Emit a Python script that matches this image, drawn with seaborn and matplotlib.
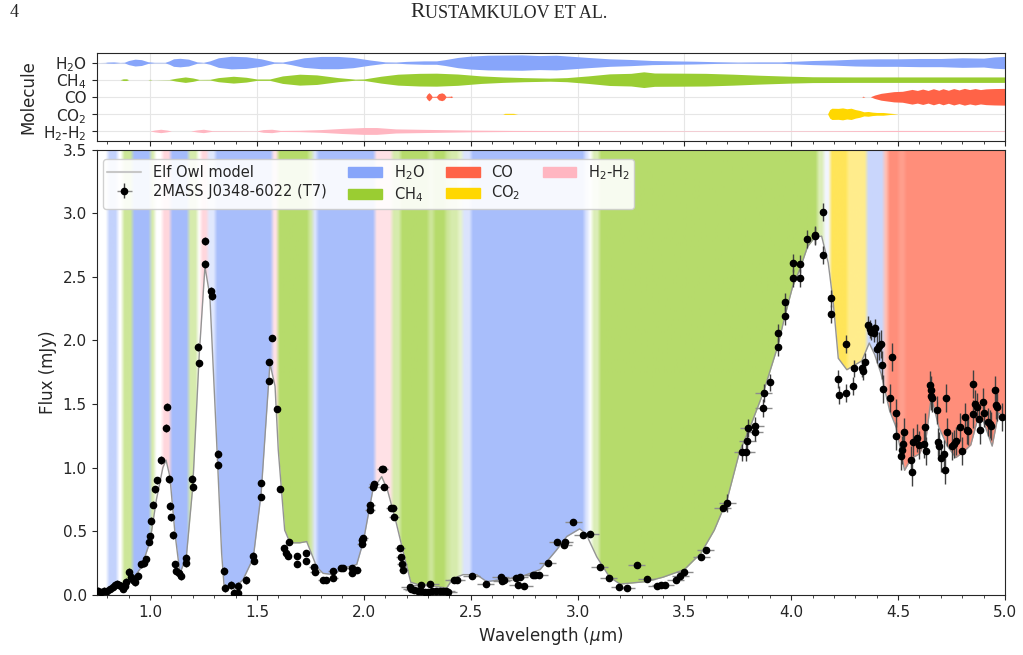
import numpy as np
import matplotlib
matplotlib.use('Agg')
import matplotlib.pyplot as plt
from matplotlib.patches import Patch
from matplotlib.lines import Line2D
from matplotlib.colors import to_rgb
from matplotlib.ticker import MultipleLocator
import seaborn as sns

# ---- observed spectrum (wavelength in um, flux in mJy) ----
spec_wave = np.array([
    0.755, 0.770, 0.785, 0.800, 0.815, 0.825, 0.835, 0.845, 0.855, 0.865,
    0.875, 0.882, 0.890, 0.900, 0.910, 0.920, 0.930, 0.945, 0.960, 0.970,
    0.980, 0.995, 1.000, 1.005, 1.015, 1.025, 1.032, 1.050, 1.075, 1.080,
    1.088, 1.092, 1.100, 1.106, 1.117, 1.120, 1.135, 1.145, 1.168, 1.170,
    1.198, 1.200, 1.226, 1.228, 1.255, 1.259, 1.287, 1.290, 1.316, 1.318,
    1.345, 1.350, 1.380, 1.393, 1.410, 1.412, 1.449, 1.483, 1.485, 1.519,
    1.520, 1.555, 1.557, 1.569, 1.595, 1.608, 1.628, 1.636, 1.645, 1.651,
    1.688, 1.690, 1.728, 1.730, 1.765, 1.772, 1.810, 1.825, 1.855, 1.856,
    1.895, 1.905, 1.944, 1.946, 1.967, 1.990, 1.993, 1.998, 2.030, 2.031,
    2.043, 2.048, 2.085, 2.090, 2.094, 2.128, 2.135, 2.141, 2.169, 2.172,
    2.178, 2.185, 2.215, 2.222, 2.235, 2.255, 2.268, 2.270, 2.285, 2.300,
    2.310, 2.320, 2.340, 2.355, 2.370, 2.385, 2.395, 2.420, 2.435, 2.505,
    2.570, 2.640, 2.645, 2.655, 2.710, 2.720, 2.730, 2.750, 2.790, 2.800,
    2.820, 2.860, 2.905, 2.935, 2.940, 2.980, 3.025, 3.060, 3.105, 3.147,
    3.195, 3.230, 3.278, 3.323, 3.370, 3.390, 3.410, 3.460, 3.480, 3.500,
    3.580, 3.600, 3.680, 3.700, 3.770, 3.790, 3.795, 3.800, 3.830, 3.832,
    3.870, 3.872, 3.900, 3.936, 3.938, 3.970, 3.972, 4.006, 4.008, 4.040,
    4.042, 4.076, 4.110, 4.112, 4.147, 4.150, 4.184, 4.186, 4.220, 4.222,
    4.256, 4.258, 4.290, 4.292, 4.330, 4.335, 4.345, 4.360, 4.370, 4.375,
    4.385, 4.390, 4.400, 4.410, 4.420, 4.425, 4.430, 4.460, 4.470, 4.490,
    4.492, 4.515, 4.520, 4.525, 4.528, 4.560, 4.565, 4.570, 4.590, 4.600,
    4.620, 4.625, 4.630, 4.650, 4.652, 4.655, 4.660, 4.680, 4.685, 4.690,
    4.700, 4.715, 4.720, 4.722, 4.730, 4.750, 4.760, 4.770, 4.790, 4.800,
    4.815, 4.820, 4.825, 4.848, 4.852, 4.860, 4.868, 4.880, 4.882, 4.898,
    4.902, 4.920, 4.928, 4.935, 4.955, 4.957, 4.962, 4.985])
spec_flux = np.array([
    0.03, 0.02, 0.03, 0.03, 0.05, 0.06, 0.08, 0.09, 0.08, 0.07,
    0.05, 0.07, 0.10, 0.18, 0.14, 0.12, 0.10, 0.15, 0.24, 0.25,
    0.28, 0.42, 0.46, 0.58, 0.71, 0.83, 0.90, 1.06, 1.31, 1.48,
    0.91, 0.70, 0.61, 0.47, 0.24, 0.19, 0.17, 0.15, 0.29, 0.25,
    0.91, 0.85, 1.95, 1.82, 2.78, 2.60, 2.39, 2.35, 1.11, 1.02,
    0.19, 0.055, 0.08, 0.015, 0.07, 0.015, 0.12, 0.31, 0.27, 0.88,
    0.77, 1.83, 1.68, 2.02, 1.46, 0.83, 0.37, 0.33, 0.31, 0.42,
    0.31, 0.24, 0.27, 0.33, 0.22, 0.18, 0.12, 0.12, 0.19, 0.13,
    0.21, 0.21, 0.21, 0.17, 0.20, 0.40, 0.43, 0.45, 0.67, 0.71,
    0.85, 0.87, 0.99, 0.99, 0.85, 0.68, 0.68, 0.61, 0.37, 0.30,
    0.24, 0.20, 0.065, 0.05, 0.04, 0.03, 0.03, 0.08, 0.02, 0.025,
    0.09, 0.03, 0.035, 0.03, 0.035, 0.03, 0.02, 0.12, 0.12, 0.15,
    0.09, 0.14, 0.11, 0.12, 0.13, 0.08, 0.14, 0.07, 0.16, 0.16,
    0.16, 0.25, 0.42, 0.39, 0.42, 0.57, 0.47, 0.48, 0.22, 0.136,
    0.065, 0.057, 0.236, 0.126, 0.07, 0.08, 0.08, 0.12, 0.15, 0.18,
    0.30, 0.35, 0.68, 0.72, 1.12, 1.12, 1.21, 1.31, 1.28, 1.33,
    1.47, 1.59, 1.67, 1.95, 2.06, 2.19, 2.30, 2.49, 2.61, 2.49,
    2.60, 2.80, 2.83, 2.82, 3.01, 2.67, 2.33, 2.21, 1.70, 1.57,
    1.97, 1.59, 1.64, 1.78, 1.78, 1.76, 1.83, 2.12, 2.09, 2.07,
    2.06, 2.10, 1.93, 1.96, 1.97, 1.81, 1.62, 1.55, 1.87, 1.43,
    1.25, 1.09, 1.14, 1.19, 1.28, 1.06, 0.97, 1.20, 1.23, 1.18,
    1.19, 1.32, 1.13, 1.65, 1.61, 1.56, 1.55, 1.45, 1.20, 1.17,
    1.08, 1.11, 0.98, 1.55, 1.28, 1.17, 1.19, 1.21, 1.32, 1.13,
    1.40, 1.30, 1.29, 1.66, 1.42, 1.50, 1.48, 1.38, 1.30, 1.52,
    1.43, 1.36, 1.34, 1.33, 1.61, 1.49, 1.48, 1.40])

# error sizes read per wavelength range (range starts / values)
xerr_start = np.array([0.75, 1.40, 1.75, 2.20, 3.90])
xerr_size = np.array([0.005, 0.012, 0.022, 0.040, 0.008])
yerr_start = np.array([0.75, 1.50, 3.70, 4.40])
yerr_size = np.array([0.03, 0.02, 0.07, 0.11])

# ---- Elf Owl model ----
model_wave = [0.75, 0.80, 0.85, 0.88, 0.90, 0.93, 0.96, 1.00, 1.03, 1.06, 1.075,
              1.093, 1.117, 1.14, 1.17, 1.20, 1.23, 1.257, 1.28, 1.31, 1.335,
              1.346, 1.39, 1.435, 1.483, 1.52, 1.561, 1.585, 1.60, 1.63, 1.655,
              1.70, 1.733, 1.78, 1.81, 1.86, 1.90, 1.967, 1.998, 2.043, 2.084,
              2.11, 2.15, 2.193, 2.22, 2.26, 2.32, 2.388, 2.417, 2.465, 2.528,
              2.575, 2.64, 2.73, 2.825, 2.90, 2.95, 3.01, 3.04, 3.09, 3.15,
              3.199, 3.32, 3.40, 3.50, 3.578, 3.64, 3.70, 3.759, 3.803, 3.869,
              3.936, 3.97, 4.006, 4.04, 4.077, 4.11, 4.142, 4.173, 4.197, 4.22,
              4.26, 4.33, 4.365, 4.39, 4.42, 4.46, 4.49, 4.53, 4.56, 4.60,
              4.63, 4.655, 4.69, 4.73, 4.77, 4.81, 4.84, 4.875, 4.90, 4.94,
              4.97, 5.0]
model_flux = [0.02, 0.03, 0.06, 0.08, 0.12, 0.15, 0.22, 0.42, 0.75, 1.00, 1.06,
              0.93, 0.48, 0.17, 0.30, 0.85, 1.88, 2.58, 2.35, 1.27, 0.33,
              0.08, 0.05, 0.12, 0.29, 0.80, 1.82, 1.64, 1.14, 0.51, 0.41,
              0.41, 0.42, 0.22, 0.17, 0.16, 0.21, 0.24, 0.42, 0.83, 0.93,
              0.83, 0.58, 0.28, 0.10, 0.08, 0.07, 0.055, 0.13, 0.16, 0.16,
              0.105, 0.12, 0.14, 0.20, 0.35, 0.46, 0.52, 0.48, 0.30, 0.14,
              0.086, 0.105, 0.14, 0.20, 0.33, 0.51, 0.75, 1.13, 1.30, 1.59,
              1.95, 2.19, 2.42, 2.56, 2.74, 2.81, 2.82, 2.61, 2.29, 1.86,
              1.77, 1.84, 1.98, 1.89, 1.74, 1.45, 1.32, 0.98, 1.07, 1.11,
              1.22, 1.56, 1.32, 1.17, 1.08, 1.13, 1.18, 1.40, 1.36, 1.17,
              1.43, 1.40]

# ---- dominant absorber bands behind the model (start wavelength, molecule, strength) ----
band_start = [0.75, 0.80, 0.845, 0.87, 0.915, 1.00, 1.02, 1.055, 1.093, 1.177,
              1.22, 1.235, 1.267, 1.304, 1.57, 1.595, 1.74, 1.76, 1.78, 2.05,
              2.13, 2.17, 2.30, 2.325, 2.38, 2.40, 2.44, 2.46, 2.50, 3.03,
              3.05, 3.065, 3.10, 4.12, 4.15, 4.18, 4.26, 4.35, 4.43, 4.45,
              4.50, 4.53]
band_mol = ['', 'H2O', '', 'CH4', 'H2O', 'CH4', '', 'H2-H2', 'H2O', 'CH4',
            '', 'H2-H2', 'H2O', 'H2O', 'H2-H2', 'CH4', 'CH4', 'H2O', 'H2O', 'H2-H2',
            'CH4', 'CH4', 'CH4', 'CH4', 'CH4', 'CH4', 'CH4', 'H2O', 'H2O', 'H2O',
            '', 'CH4', 'CH4', 'CH4', 'H2O', 'CO2', 'CO2', 'H2O', 'CO', 'CO',
            'CO', 'CO']
band_alpha = [0, 0.5, 0, 0.5, 0.75, 0.4, 0, 0.55, 0.75, 0.4,
              0, 0.55, 0.25, 0.72, 0.4, 0.72, 0.45, 0.3, 0.72, 0.4,
              0.4, 0.72, 0.5, 0.72, 0.5, 0.4, 0.25, 0.3, 0.72, 0.3,
              0, 0.35, 0.72, 0.35, 0.1, 0.65, 0.45, 0.45, 0.4, 0.72,
              0.62, 0.72]

# ---- molecule contribution strips (wavelength, half width) ----
h2o_wave = [0.75, 0.79, 0.80, 0.83, 0.86, 0.88, 0.90, 0.93, 0.96, 0.99, 1.02, 1.07,
            1.09, 1.11, 1.14, 1.18, 1.22, 1.25, 1.28, 1.32, 1.38, 1.45, 1.52, 1.58,
            1.62, 1.66, 1.72, 1.80, 1.88, 1.95, 2.03, 2.10, 2.15, 2.20, 2.28, 2.34,
            2.38, 2.44, 2.50, 2.58, 2.66, 2.74, 2.82, 2.90, 2.97, 3.05, 3.15, 3.25,
            3.35, 3.45, 3.55, 3.65, 3.75, 3.85, 3.95, 4.02, 4.10, 4.20, 4.30, 4.40,
            4.50, 4.60, 4.70, 4.80, 4.90, 4.95, 5.00]
h2o_half = [0.0, 0.01, 0.03, 0.04, 0.01, 0.02, 0.12, 0.20, 0.17, 0.05, 0.015, 0.015,
            0.10, 0.22, 0.25, 0.20, 0.04, 0.015, 0.10, 0.28, 0.37, 0.34, 0.22, 0.04,
            0.03, 0.12, 0.28, 0.36, 0.36, 0.30, 0.15, 0.04, 0.03, 0.07, 0.10, 0.10,
            0.17, 0.30, 0.38, 0.43, 0.44, 0.45, 0.41, 0.43, 0.37, 0.30, 0.22, 0.18,
            0.12, 0.10, 0.08, 0.05, 0.03, 0.04, 0.04, 0.08, 0.12, 0.15, 0.20, 0.22,
            0.22, 0.24, 0.24, 0.28, 0.26, 0.33, 0.36]
ch4_wave = [0.75, 0.86, 0.875, 0.89, 0.90, 0.99, 1.00, 1.01, 1.09, 1.12, 1.165, 1.20,
            1.23, 1.28, 1.32, 1.39, 1.45, 1.50, 1.56, 1.62, 1.70, 1.78, 1.88, 1.96,
            2.00, 2.08, 2.16, 2.26, 2.34, 2.44, 2.55, 2.65, 2.75, 2.87, 2.95, 3.05,
            3.15, 3.25, 3.31, 3.36, 3.50, 3.60, 3.73, 3.85, 4.00, 4.10, 4.30, 4.60,
            5.00]
ch4_half = [0.0, 0.0, 0.05, 0.05, 0.0, 0.0, 0.02, 0.0, 0.01, 0.08, 0.16, 0.10,
            0.015, 0.02, 0.12, 0.20, 0.14, 0.04, 0.04, 0.22, 0.32, 0.28, 0.12, 0.03,
            0.04, 0.20, 0.32, 0.37, 0.38, 0.33, 0.22, 0.16, 0.12, 0.09, 0.12, 0.22,
            0.34, 0.37, 0.46, 0.39, 0.38, 0.37, 0.32, 0.26, 0.20, 0.17, 0.16, 0.16,
            0.16]
co_wave = [0.75, 2.29, 2.297, 2.305, 2.313, 2.32, 2.34, 2.35, 2.365, 2.375, 2.385,
           2.405, 2.41, 2.415, 4.33, 4.335, 4.345, 4.37, 4.39, 4.42, 4.45, 4.48,
           4.52, 4.545, 4.565, 4.59, 4.615, 4.64, 4.665, 4.69, 4.71, 4.735, 4.76,
           4.785, 4.81, 4.835, 4.86, 4.885, 4.91, 4.95, 5.00]
co_half = [0.0, 0.0, 0.15, 0.24, 0.15, 0.02, 0.03, 0.18, 0.23, 0.18, 0.02,
           0.03, 0.05, 0.0, 0.0, 0.03, 0.0, 0.0, 0.10, 0.20, 0.25, 0.30,
           0.32, 0.38, 0.43, 0.37, 0.45, 0.37, 0.47, 0.38, 0.47, 0.38, 0.48,
           0.40, 0.49, 0.42, 0.48, 0.42, 0.46, 0.48, 0.49]
co2_wave = [0.75, 2.65, 2.66, 2.70, 2.72, 4.17, 4.18, 4.19, 4.22, 4.24, 4.26, 4.28,
            4.30, 4.32, 4.34, 4.36, 4.38, 4.40, 4.43, 4.46, 4.50, 5.00]
co2_half = [0.0, 0.0, 0.03, 0.03, 0.0, 0.0, 0.25, 0.33, 0.32, 0.35, 0.30, 0.33,
            0.25, 0.20, 0.12, 0.14, 0.10, 0.08, 0.08, 0.04, 0.0, 0.0]
h2h2_wave = [0.75, 1.00, 1.02, 1.05, 1.08, 1.10, 1.19, 1.22, 1.25, 1.29, 1.50, 1.53,
             1.57, 1.61, 1.70, 1.80, 1.90, 2.00, 2.06, 2.15, 2.25, 2.35, 2.50, 2.70,
             3.00, 3.50, 4.00, 4.20, 4.50, 4.80, 5.00]
h2h2_half = [0.0, 0.0, 0.05, 0.10, 0.05, 0.0, 0.0, 0.06, 0.10, 0.02, 0.01, 0.08,
             0.10, 0.03, 0.04, 0.08, 0.15, 0.20, 0.20, 0.12, 0.10, 0.08, 0.05, 0.03,
             0.02, 0.015, 0.015, 0.02, 0.03, 0.025, 0.02]

molecules = ['H2O', 'CH4', 'CO', 'CO2', 'H2-H2']
mol_rows = [4, 3, 2, 1, 0]
mol_labels = [r'H$_2$O', r'CH$_4$', 'CO', r'CO$_2$', r'H$_2$-H$_2$']
mol_colors = {'H2O': '#87a5fa', 'CH4': '#9acd32', 'CO': '#ff6347',
              'CO2': '#ffd700', 'H2-H2': '#ffb6c1'}
strips = {'H2O': (h2o_wave, h2o_half), 'CH4': (ch4_wave, ch4_half),
          'CO': (co_wave, co_half), 'CO2': (co2_wave, co2_half),
          'H2-H2': (h2h2_wave, h2h2_half)}

sns.set_style('ticks')
plt.rcParams['font.family'] = ['DejaVu Sans']
plt.rcParams['mathtext.fontset'] = 'dejavusans'
plt.rcParams['xtick.labelsize'] = 11
plt.rcParams['ytick.labelsize'] = 11

fig = plt.figure(figsize=(10.23, 6.55), dpi=100)
ax_top = fig.add_axes([0.0944, 0.7852, 0.888, 0.1344])
ax = fig.add_axes([0.0944, 0.0916, 0.888, 0.680])

# header line of the paper page
fig.text(10 / 1023, 0.981, '4', family='Liberation Serif', fontsize=13, va='center')
fig.text(410 / 1023, 0.981, 'R', family='Liberation Serif', fontsize=15.5, va='center')
fig.text(425 / 1023, 0.980, 'USTAMKULOV ET AL.', family='Liberation Serif',
         fontsize=13, va='center')

# ---- top panel: molecule contributions ----
for mol, row in zip(molecules, mol_rows):
    w, h = strips[mol]
    h = np.array(h)
    ax_top.fill_between(w, row - h, row + h, color=mol_colors[mol], lw=0, zorder=2)
ax_top.set_xlim(0.75, 5.0)
ax_top.set_ylim(-0.57, 4.58)
ax_top.set_yticks(mol_rows)
ax_top.set_yticklabels(mol_labels)
ax_top.xaxis.set_major_locator(MultipleLocator(0.5))
ax_top.xaxis.set_minor_locator(MultipleLocator(0.1))
ax_top.tick_params(axis='x', which='both', labelbottom=False)
ax_top.set_axisbelow(True)
ax_top.grid(True, which='major', color='0.9', lw=0.8)
ax_top.set_ylabel('Molecule', fontsize=12)

# ---- main panel ----
grid = np.arange(0.75, 5.0005, 0.002)
idx = np.searchsorted(band_start, grid, side='right') - 1
rgb = np.ones((grid.size, 3))
for i, (m, a) in enumerate(zip(band_mol, band_alpha)):
    if m == '':
        continue
    rgb[idx == i] = a * np.array(to_rgb(mol_colors[m])) + (1 - a)
kern = np.ones(9) / 9
padded = np.pad(rgb, ((4, 4), (0, 0)), mode='edge')
smooth = np.stack([np.convolve(padded[:, j], kern, mode='valid') for j in range(3)], axis=1)
ax.imshow(smooth[None, :, :], extent=[0.75, 5.0, 0, 3.5], aspect='auto',
          origin='lower', zorder=0, interpolation='bilinear')
ax.fill_between(model_wave, 0, model_flux, color='white', lw=0, zorder=1)
sns.lineplot(x=model_wave, y=model_flux, ax=ax, color='0.58', lw=1, sort=False,
             zorder=2, legend=False)

xerr = xerr_size[np.searchsorted(xerr_start, spec_wave, side='right') - 1]
yerr = yerr_size[np.searchsorted(yerr_start, spec_wave, side='right') - 1]
hbar = ax.errorbar(spec_wave, spec_flux, xerr=xerr, fmt='none', ecolor='0.55',
                   elinewidth=1, zorder=3)
vbar = ax.errorbar(spec_wave, spec_flux, yerr=yerr, fmt='o', color='k', ecolor='0.25',
                   elinewidth=1, ms=4.5, zorder=4)

ax.set_xlim(0.75, 5.0)
ax.set_ylim(0, 3.5)
ax.xaxis.set_major_locator(MultipleLocator(0.5))
ax.xaxis.set_minor_locator(MultipleLocator(0.1))
ax.yaxis.set_major_locator(MultipleLocator(0.5))
ax.set_xlabel(r'Wavelength ($\mu$m)', fontsize=12)
ax.set_ylabel('Flux (mJy)', fontsize=12)

handles = [Line2D([], [], color='0.78', lw=1.5), (hbar, vbar)]
handles += [Patch(color=mol_colors[m]) for m in molecules]
handles += [Line2D([], [], alpha=0)]
labels = ['Elf Owl model', '2MASS J0348-6022 (T7)'] + mol_labels + ['']
ax.legend(handles, labels, ncol=4, loc='upper left', bbox_to_anchor=(0.004, 0.986),
          fontsize=10.5, framealpha=0.9, handlelength=2.3, columnspacing=1.5,
          labelspacing=0.25, borderpad=0.3, borderaxespad=0.2)

fig.savefig('out.png', dpi=100)
